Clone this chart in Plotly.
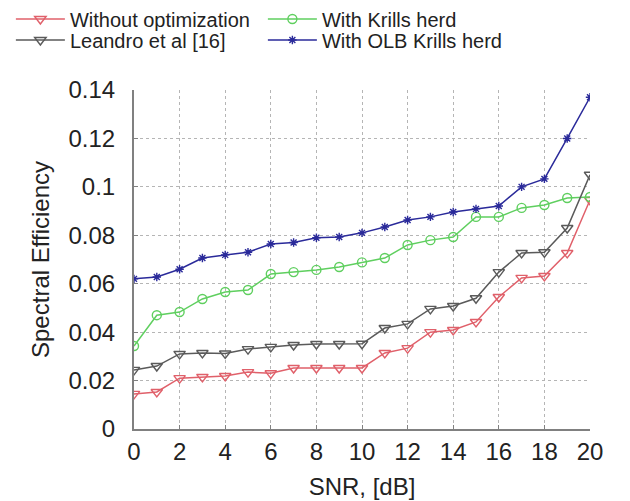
import plotly.graph_objects as go

snr = list(range(0, 21))

without_opt = [0.0145, 0.0153, 0.021, 0.0215, 0.0219, 0.0235, 0.023, 0.0252, 0.0252, 0.0252,
               0.0252, 0.0314, 0.0334, 0.040, 0.0409, 0.0442, 0.0545, 0.0624, 0.0632, 0.0727, 0.0946]
krills = [0.0343, 0.047, 0.0483, 0.0537, 0.0566, 0.0574, 0.064, 0.0648, 0.0657, 0.0669,
          0.0688, 0.0706, 0.076, 0.078, 0.0793, 0.0876, 0.0876, 0.0913, 0.0925, 0.0954, 0.0958]
leandro = [0.0244, 0.026, 0.031, 0.0314, 0.0312, 0.033, 0.0339, 0.0347, 0.0351, 0.0351,
           0.0352, 0.0417, 0.0434, 0.0496, 0.0508, 0.054, 0.0648, 0.0727, 0.073, 0.083, 0.105]
olb_krills = [0.062, 0.0628, 0.066, 0.0706, 0.0719, 0.073, 0.0764, 0.077, 0.079, 0.0793,
              0.081, 0.0834, 0.0863, 0.0876, 0.0896, 0.0909, 0.0921, 0.100, 0.1033, 0.120, 0.137]

y_ticks = [0, 0.02, 0.04, 0.06, 0.08, 0.1, 0.12, 0.14]
y_tick_text = ["0", "0.02", "0.04", "0.06", "0.08", "0.1", "0.12", "0.14"]
x_ticks = list(range(0, 21, 2))

# name, values, colour, marker symbol, marker size, legend row
series = [
    ("Without optimization", without_opt, "#e0606a", "triangle-down-open", 10, "legend"),
    ("With Krills herd", krills, "#5fcf5f", "circle-open", 9, "legend"),
    ("Leandro et al [16]", leandro, "#5a5a5a", "triangle-down-open", 10, "legend2"),
    ("With OLB Krills herd", olb_krills, "#2a2a9a", "asterisk-open", 7, "legend2"),
]

fig = go.Figure()
for name, vals, color, symbol, size, leg in series:
    fig.add_trace(go.Scatter(
        x=snr, y=vals, name=name, mode="lines+markers", legend=leg,
        line=dict(color=color, width=1.5),
        marker=dict(symbol=symbol, size=size, color=color, line=dict(width=1.4, color=color)),
    ))

font_family = "Liberation Sans, Arial, sans-serif"
legend_common = dict(
    orientation="h", xanchor="left", yanchor="top",
    entrywidth=188, entrywidthmode="pixels", itemwidth=49,
    font=dict(family=font_family, size=20, color="#222222"),
    bgcolor="rgba(0,0,0,0)", borderwidth=0, tracegroupgap=0,
)

fig.update_layout(
    width=630, height=501,
    margin=dict(l=134, r=40, t=90, b=72, autoexpand=False),
    paper_bgcolor="white", plot_bgcolor="white",
    font=dict(family=font_family, size=24, color="#222222"),
    showlegend=True,
    legend=dict(x=-0.27, y=1.267, **legend_common),
    legend2=dict(x=-0.27, y=1.205, **legend_common),
    xaxis=dict(
        range=[0, 20], tickmode="array", tickvals=x_ticks,
        showgrid=True, gridcolor="#b5b5b5", griddash="dot", gridwidth=1,
        showline=True, linecolor="#808080", linewidth=2, mirror=False,
        ticks="inside", ticklen=4, tickcolor="#808080",
        ticklabelstandoff=0,
        zeroline=False,
        tickfont=dict(size=24),
        title=dict(text="SNR, [dB]", font=dict(size=24), standoff=14),
    ),
    yaxis=dict(
        range=[0, 0.14], tickmode="array", tickvals=y_ticks, ticktext=y_tick_text,
        showgrid=True, gridcolor="#b5b5b5", griddash="dot", gridwidth=1,
        showline=True, linecolor="#808080", linewidth=2, mirror=False,
        ticks="inside", ticklen=4, tickcolor="#808080",
        ticklabelstandoff=12,
        zeroline=False,
        tickfont=dict(size=24),
        title=dict(text="Spectral Efficiency", font=dict(size=24), standoff=12),
    ),
)

fig.write_html("out.html")
